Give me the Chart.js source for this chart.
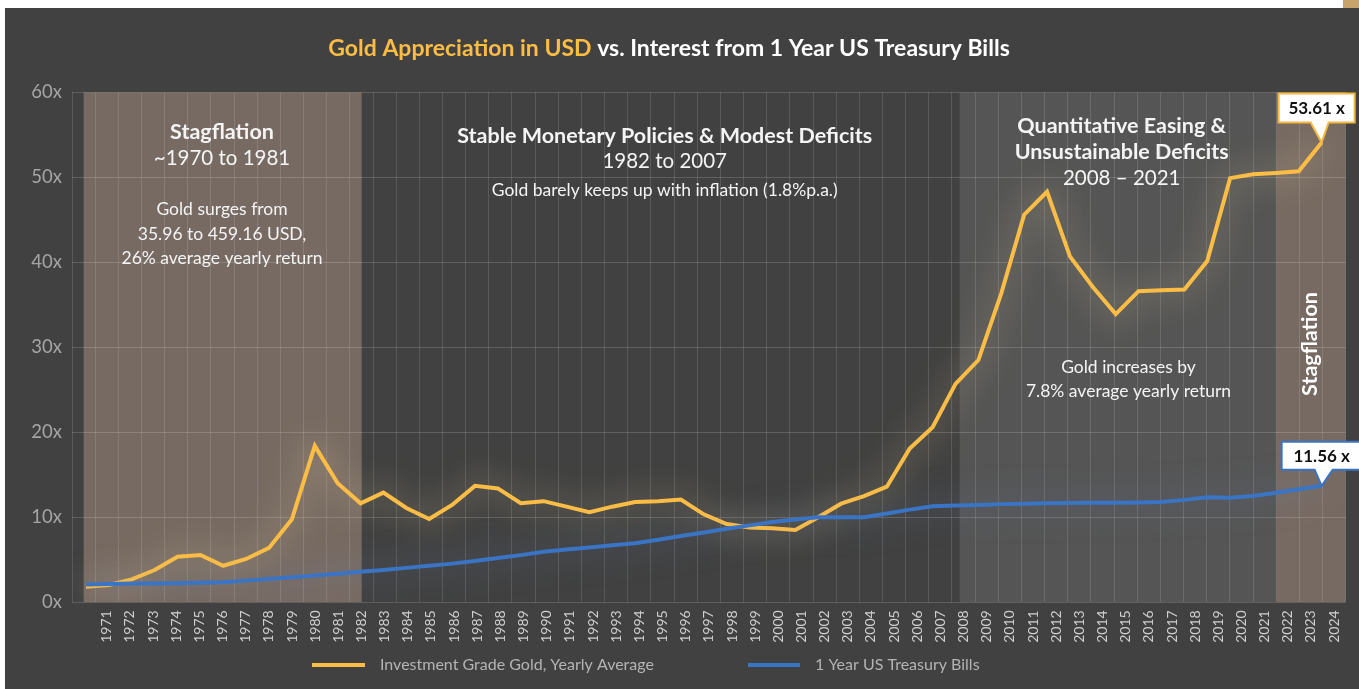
<!DOCTYPE html>
<html>
<head>
<meta charset="utf-8">
<script src="https://cdn.jsdelivr.net/npm/chart.js@4.4.1/dist/chart.umd.min.js"></script>
<style>
  html, body { margin: 0; padding: 0; background: #fff; }
  body { width: 1359px; height: 689px; position: relative; overflow: hidden; }
  .panel { position: absolute; left: 5px; top: 8px; width: 1354px; height: 681px; background: #414141; }
  .corner { position: absolute; left: 1343px; top: 0; width: 16px; height: 8px; background: #c8a46c; }
</style>
</head>
<body>
<div class="corner"></div>
<div class="panel"><canvas id="chart"></canvas></div>
<script>
const years = [
  1970, 1971, 1972, 1973, 1974, 1975, 1976, 1977, 1978, 1979,
  1980, 1981, 1982, 1983, 1984, 1985, 1986, 1987, 1988, 1989,
  1990, 1991, 1992, 1993, 1994, 1995, 1996, 1997, 1998, 1999,
  2000, 2001, 2002, 2003, 2004, 2005, 2006, 2007, 2008, 2009,
  2010, 2011, 2012, 2013, 2014, 2015, 2016, 2017, 2018, 2019,
  2020, 2021, 2022, 2023, 2024,
];

// gold, multiple of the 1970 price
const gold = [
  1.84, 2.04, 2.7, 3.8, 5.36, 5.56, 4.3, 5.1, 6.4, 9.76,
  18.4, 14.0, 11.65, 12.9, 11.1, 9.8, 11.45, 13.7, 13.4, 11.65,
  11.9, 11.25, 10.6, 11.25, 11.8, 11.9, 12.1, 10.35, 9.2, 8.8,
  8.7, 8.5, 10.0, 11.6, 12.5, 13.6, 18.1, 20.6, 25.7, 28.5,
  36.35, 45.6, 48.3, 40.7, 37.1, 33.9, 36.6, 36.7, 36.8, 40.15,
  49.9, 50.35, 50.5, 50.7, 54.1,
];

// 1 year t-bills, compounded
const tbills = [
  2.1, 2.15, 2.2, 2.22, 2.25, 2.3, 2.35, 2.55, 2.75, 2.95,
  3.15, 3.35, 3.6, 3.8, 4.05, 4.3, 4.55, 4.85, 5.2, 5.55,
  5.95, 6.2, 6.45, 6.7, 6.95, 7.35, 7.8, 8.2, 8.65, 9.05,
  9.45, 9.75, 10.0, 10.0, 10.0, 10.45, 10.9, 11.3, 11.4, 11.45,
  11.55, 11.6, 11.65, 11.68, 11.7, 11.72, 11.75, 11.8, 12.05, 12.35,
  12.3, 12.5, 12.9, 13.3, 13.7,
];

const yTicks = [0, 10, 20, 30, 40, 50, 60];

// shaded periods (in years on the data axis)
const periodStart = [1969.9, 2008.18, 2022.02];
const periodEnd = [1982.05, 2022.02, 2025.1];
const periodColor = ["#776a62", "#555555", "#776a62"];

const goldLabel = "53.61 x";
const tbillLabel = "11.56 x";

const FONT = "Lato, 'Noto Sans', sans-serif";
const GOLD = "#fbbd45";
const BLUE = "#3a74c4";

// page coords -> canvas coords (canvas sits at 5,8)
const px = (x) => x - 5;
const py = (y) => y - 8;

const shading = {
  id: "shading",
  beforeDraw(chart) {
    const { ctx, chartArea } = chart;
    const xd = chart.scales.xd;
    ctx.save();
    ctx.beginPath();
    ctx.rect(chartArea.left, chartArea.top, chartArea.right - chartArea.left, chartArea.bottom - chartArea.top);
    ctx.clip();
    periodStart.forEach((s, i) => {
      const x0 = xd.getPixelForValue(s);
      const x1 = xd.getPixelForValue(periodEnd[i]);
      ctx.fillStyle = periodColor[i];
      ctx.fillRect(x0, chartArea.top, x1 - x0, chartArea.bottom - chartArea.top);
    });
    ctx.restore();
  },
};

const glow = {
  id: "glow",
  beforeDatasetDraw(chart, args) {
    const ctx = chart.ctx;
    ctx.save();
    ctx.shadowBlur = 32;
    ctx.shadowColor = args.index === 0 ? "rgba(255, 235, 170, 0.7)" : "rgba(130, 160, 215, 0.55)";
  },
  afterDatasetDraw(chart) {
    chart.ctx.restore();
  },
};

function text(ctx, str, x, y, font, color, align) {
  ctx.font = font;
  ctx.fillStyle = color;
  ctx.textAlign = align || "center";
  ctx.textBaseline = "middle";
  ctx.fillText(str, x, y);
}

function callout(ctx, label, x, y, color, left, width, gap, height, b0, b1) {
  const top = y - gap - height;
  ctx.save();
  ctx.beginPath();
  ctx.moveTo(x + left, top);
  ctx.lineTo(x + left + width, top);
  ctx.lineTo(x + left + width, top + height);
  ctx.lineTo(x + b1, top + height);
  ctx.lineTo(x, y);
  ctx.lineTo(x + b0, top + height);
  ctx.lineTo(x + left, top + height);
  ctx.closePath();
  ctx.fillStyle = "#ffffff";
  ctx.fill();
  ctx.lineWidth = 2;
  ctx.strokeStyle = color;
  ctx.lineJoin = "miter";
  ctx.stroke();
  text(ctx, label, x + left + width / 2, top + height / 2 + 1, "bold 17px " + FONT, "#111111");
  ctx.restore();
}

const notes = {
  id: "notes",
  afterDraw(chart) {
    const ctx = chart.ctx;
    const W = "#f4f4f4";
    ctx.save();

    // title, two colours
    const T = "bold 23px " + FONT;
    ctx.font = T;
    const t1 = "Gold Appreciation in USD";
    const t2 = " vs. Interest from 1 Year US Treasury Bills";
    const w1 = ctx.measureText(t1).width;
    const w2 = ctx.measureText(t2).width;
    const tx = px(669) - (w1 + w2) / 2;
    text(ctx, t1, tx, py(49), T, GOLD, "left");
    text(ctx, t2, tx + w1, py(49), T, "#ffffff", "left");

    const B = "bold 21.5px " + FONT;
    const R = "20.5px " + FONT;
    const S = "17.5px " + FONT;

    text(ctx, "Stagflation", px(222), py(131.7), B, W);
    text(ctx, "~1970 to 1981", px(222), py(158.3), R, W);
    text(ctx, "Gold surges from", px(222), py(209.3), S, W);
    text(ctx, "35.96 to 459.16 USD,", px(222), py(234), S, W);
    text(ctx, "26% average yearly return", px(222), py(258.3), S, W);

    text(ctx, "Stable Monetary Policies & Modest Deficits", px(664.7), py(136), B, W);
    text(ctx, "1982 to 2007", px(664.7), py(161.7), R, W);
    text(ctx, "Gold barely keeps up with inflation (1.8%p.a.)", px(664.7), py(190), S, W);

    text(ctx, "Quantitative Easing &", px(1121.7), py(125.7), B, W);
    text(ctx, "Unsustainable Deficits", px(1121.7), py(151.7), B, W);
    text(ctx, "2008 \u2013 2021", px(1121.7), py(178.3), R, W);

    text(ctx, "Gold increases by", px(1128.5), py(367.3), S, W);
    text(ctx, "7.8% average yearly return", px(1128.5), py(391.7), S, W);

    ctx.save();
    ctx.translate(px(1310), py(344));
    ctx.rotate(-Math.PI / 2);
    text(ctx, "Stagflation", 0, 0, B, "#ffffff");
    ctx.restore();

    // legend
    const ly = py(665);
    const items = [
      { ds: chart.data.datasets[0], x0: 312, x1: 365, tx: 380 },
      { ds: chart.data.datasets[1], x0: 748, x1: 800, tx: 815 },
    ];
    items.forEach((it) => {
      ctx.beginPath();
      ctx.moveTo(px(it.x0), ly);
      ctx.lineTo(px(it.x1), ly);
      ctx.lineWidth = 4;
      ctx.strokeStyle = it.ds.borderColor;
      ctx.stroke();
      text(ctx, it.ds.label, px(it.tx), ly, "16px " + FONT, "#b4b4b4", "left");
    });

    // end-value callouts, anchored on the last points
    const g = chart.getDatasetMeta(0).data;
    const b = chart.getDatasetMeta(1).data;
    const gp = g[g.length - 1];
    const bp = b[b.length - 1];
    callout(ctx, goldLabel, gp.x, gp.y, "#f5b942", -43, 76, 20, 29, -11, 7);
    callout(ctx, tbillLabel, bp.x, bp.y, BLUE, -40, 80, 16, 28, -7, 11);

    ctx.restore();
  },
};

new Chart(document.getElementById("chart"), {
  type: "line",
  data: {
    labels: years.map(String),
    datasets: [
      {
        label: "Investment Grade Gold, Yearly Average",
        data: years.map((yr, i) => ({ x: yr, y: gold[i] })),
        xAxisID: "xd",
        borderColor: GOLD,
        borderWidth: 4,
        borderJoinStyle: "miter",
        pointRadius: 0,
        tension: 0,
        order: 1,
      },
      {
        label: "1 Year US Treasury Bills",
        data: years.map((yr, i) => ({ x: yr, y: tbills[i] })),
        xAxisID: "xd",
        borderColor: BLUE,
        borderWidth: 4,
        borderJoinStyle: "miter",
        pointRadius: 0,
        tension: 0,
        order: 0,
      },
    ],
  },
  options: {
    responsive: true,
    maintainAspectRatio: false,
    animation: false,
    layout: {
      padding: { top: 84.3, right: 12, bottom: 36.7, left: 0 },
    },
    scales: {
      x: {
        type: "category",
        offset: true,
        grid: {
          offset: true,
          color: "rgba(255,255,255,0.13)",
          drawTicks: false,
        },
        border: { display: false },
        ticks: {
          autoSkip: false,
          maxRotation: 90,
          minRotation: 90,
          padding: 8,
          color: "#cfcfcf",
          font: { family: FONT, size: 14 },
          callback: function (val, i) {
            return i === 0 ? "" : this.getLabelForValue(val);
          },
        },
        afterFit(scale) {
          scale.height = 50;
        },
      },
      xd: {
        type: "linear",
        display: false,
        min: 1969.39,
        max: 2025.05,
      },
      y: {
        min: 0,
        max: 60,
        afterBuildTicks(scale) {
          scale.ticks = yTicks.map((v) => ({ value: v }));
        },
        grid: {
          color: "rgba(255,255,255,0.16)",
          drawTicks: false,
        },
        border: { display: false },
        ticks: {
          padding: 10,
          color: "#a5a5a5",
          font: { family: FONT, size: 18.5 },
          callback: (v) => v + "x",
        },
        afterFit(scale) {
          scale.width = 67;
        },
      },
    },
    plugins: {
      legend: { display: false },
      tooltip: { enabled: false },
    },
  },
  plugins: [shading, glow, notes],
});
</script>
</body>
</html>
